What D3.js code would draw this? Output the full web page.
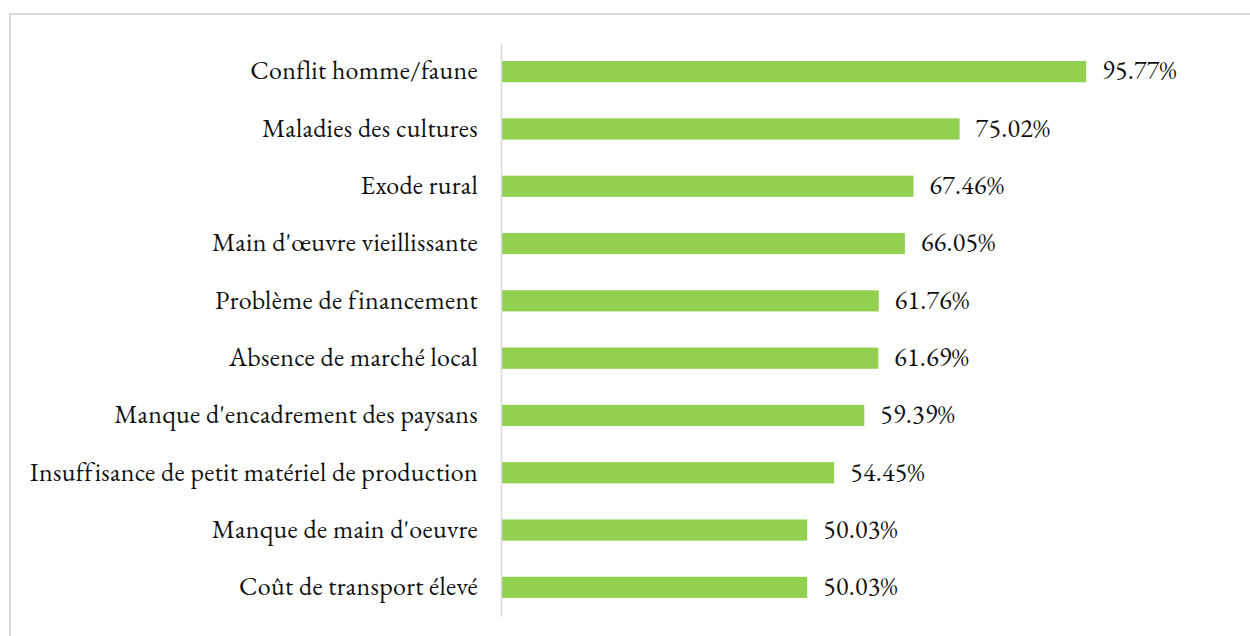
<!DOCTYPE html>
<html lang="fr">
<head>
<meta charset="utf-8">
<title>Contraintes</title>
<script src="https://cdn.jsdelivr.net/npm/d3@7"></script>
<style>
  body { margin: 0; background: #fff; }
  text { font-family: "EB Garamond", "Liberation Serif", serif; fill: #111; letter-spacing: 0.3px; }
</style>
</head>
<body>
<script>
// categories, top to bottom
var categories = [
  "Conflit homme/faune",
  "Maladies des cultures",
  "Exode rural",
  "Main d'œuvre vieillissante",
  "Problème de financement",
  "Absence de marché local",
  "Manque d'encadrement des paysans",
  "Insuffisance de petit matériel de production",
  "Manque de main d'oeuvre",
  "Coût de transport élevé"
];
// percentage values
var values = [95.77, 75.02, 67.46, 66.05, 61.76, 61.69, 59.39, 54.45, 50.03, 50.03];

var w = 1250, h = 636;
var fontSize = "26px";

var svg = d3.select("body").append("svg")
    .attr("width", w)
    .attr("height", h);

// chart frame (runs off the right and bottom edges)
svg.append("rect")
    .attr("x", 10).attr("y", 14)
    .attr("width", 1260).attr("height", 640)
    .attr("fill", "none")
    .attr("stroke", "#d9d9d9")
    .attr("stroke-width", 2);

var x = d3.scaleLinear().domain([0, 100]).range([502, 1112]);
var y = d3.scaleBand().domain(categories).range([43, 616]).paddingInner(0.63).paddingOuter(0.315);

// bars
svg.selectAll("rect.bar")
    .data(values)
    .enter().append("rect")
    .attr("class", "bar")
    .attr("x", x(0))
    .attr("y", function(d, i) { return y(categories[i]); })
    .attr("width", function(d) { return x(d) - x(0); })
    .attr("height", y.bandwidth())
    .attr("fill", "#92d050");

// vertical axis line with no ticks
var yAxis = d3.axisLeft(y).tickSize(0).tickPadding(23);
var g = svg.append("g").attr("transform", "translate(501,0)").call(yAxis);
g.select(".domain").attr("stroke", "#d9d9d9").attr("stroke-width", 1.5);
g.selectAll("text")
    .style("font-family", '"EB Garamond", "Liberation Serif", serif')
    .style("font-size", fontSize)
    .attr("fill", "#111")
    .attr("dy", "0.3em");

// value labels
svg.selectAll("text.val")
    .data(values)
    .enter().append("text")
    .attr("class", "val")
    .attr("x", function(d) { return x(d) + 16; })
    .attr("y", function(d, i) { return y(categories[i]) + y.bandwidth() / 2; })
    .attr("dy", "0.3em")
    .style("font-size", fontSize)
    .text(function(d) { return d.toFixed(2) + "%"; });
</script>
</body>
</html>
